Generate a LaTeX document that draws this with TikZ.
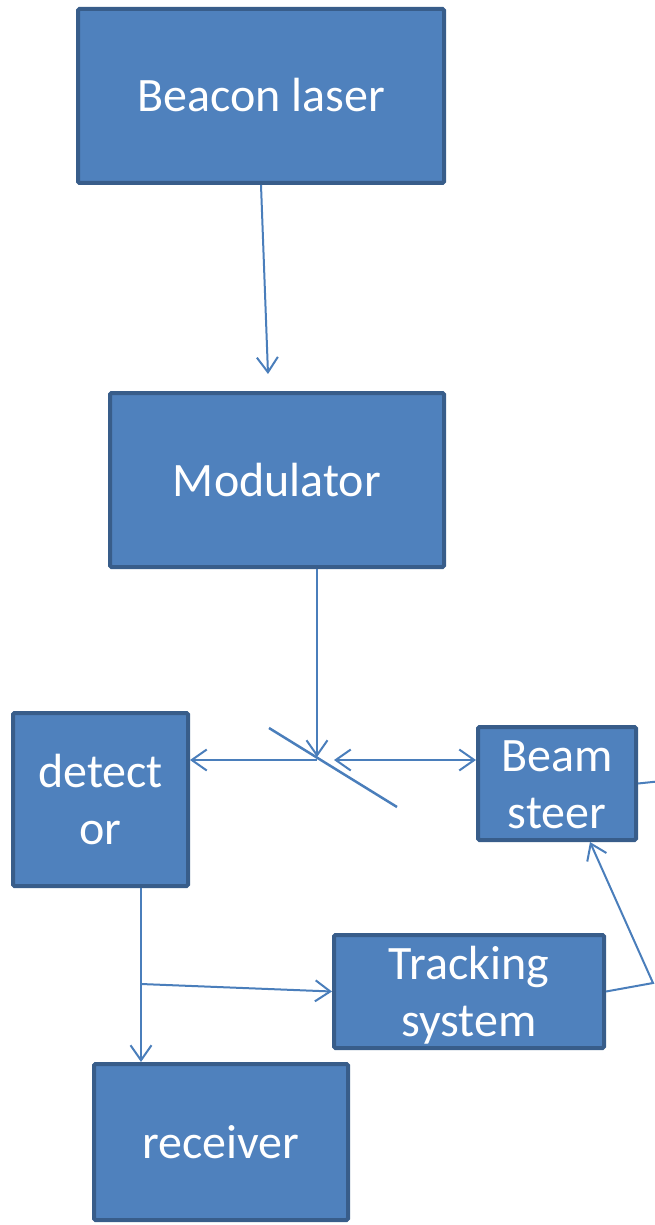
\documentclass[tikz,border=0pt]{standalone}
\usepackage{fontspec}
\setmainfont{Carlito}
\usetikzlibrary{arrows.meta}
\definecolor{boxfill}{HTML}{4F81BD}
\definecolor{boxline}{HTML}{385D8A}
\definecolor{connline}{HTML}{4A7EBB}
\tikzset{
  blockbox/.style={draw=boxline, fill=boxfill, line width=4pt, rounded corners=1.5pt,
    text=white, align=center, inner sep=0pt,
    font=\fontsize{48}{57}\selectfont, text height=44pt, text depth=12pt},
  twoline/.style={text height=101pt},
  conn/.style={draw=connline, line width=2pt},
  arr/.style={conn, -{Straight Barb[length=15pt,width=21pt,line width=2pt]}},
  darr/.style={conn, {Straight Barb[length=15pt,width=21pt,line width=2pt]}-{Straight Barb[length=15pt,width=21pt,line width=2pt]}}
}
\begin{document}
\begin{tikzpicture}[x=1pt,y=-1pt]
\useasboundingbox (0,0) rectangle (655,1225);
\clip (0,0) rectangle (655,1225);
\node[blockbox, minimum width=366pt, minimum height=174pt] (beacon) at (261,96) {Beacon laser};
\node[blockbox, minimum width=334pt, minimum height=174pt] (mod) at (277,480) {Modulator};
\node[blockbox, twoline, minimum width=175pt, minimum height=173pt] (det) at (100.5,799.5) {detect\\or};
\node[blockbox, twoline, minimum width=158pt, minimum height=109pt] (beam) at (557,783.5) {Beam\\steer};
\node[blockbox, twoline, minimum width=270pt, minimum height=109pt] (track) at (469,991.5) {Tracking\\system};
\node[blockbox, minimum width=254pt, minimum height=156pt] (recv) at (221,1142) {receiver};
% coordinates
\coordinate (a1) at (268,374);
\coordinate (m) at (317,757);
\coordinate (m2) at (317,760);
\coordinate (d1) at (334,760);
\coordinate (mirA) at (269,728);
\coordinate (mirB) at (397,807);
\coordinate (offR) at (662,781);
\coordinate (bend) at (653,983);
\coordinate (s1) at (141,984);
% connectors
\draw[arr] (beacon.south) -- (a1);
\draw[arr] (mod.south -| m) -- (m);
\draw[conn, line width=2.5pt] (mirA) -- (mirB);
\draw[arr] (m2) -- (m2 -| det.east);
\draw[darr] (d1) -- (d1 -| beam.west);
\draw[conn] (beam.east) -- (offR);
\draw[arr] (track.east) -- (bend) -- ([xshift=33pt]beam.south);
\draw[arr] (det.south -| s1) -- (recv.north -| s1);
\draw[arr] (s1) -- (track.west);
\end{tikzpicture}
\end{document}
